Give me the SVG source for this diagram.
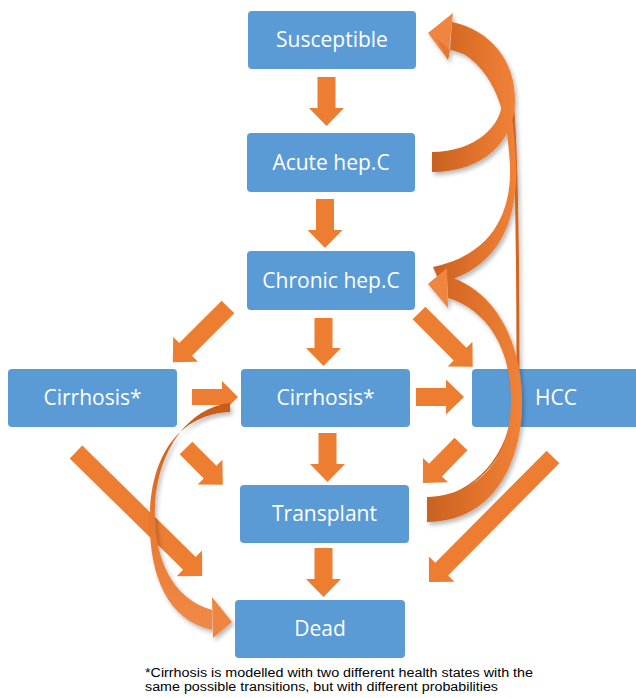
<svg xmlns="http://www.w3.org/2000/svg" width="636" height="698" viewBox="0 0 636 698">
<style>
.box{fill:#5b9bd5}
.lbl{font-family:"Open Sans","Liberation Sans",sans-serif;font-size:21px;fill:#ffffff;text-anchor:middle}
.arr{fill:#ed7d31}
.rib{fill:url(#gr)}
.rib2{fill:url(#gr2)}
.head{fill:#ef8540}
.note{font-family:"Liberation Sans",Arial,sans-serif;font-size:12px;fill:#000000}
</style>
<defs>
<linearGradient id="gr" x1="0" y1="0" x2="1" y2="0">
<stop offset="0" stop-color="#c8621f"/>
<stop offset="0.5" stop-color="#e0712a"/>
<stop offset="1" stop-color="#f08238"/>
</linearGradient>
<linearGradient id="gr2" x1="0" y1="0" x2="0" y2="1">
<stop offset="0" stop-color="#c45c1a"/>
<stop offset="0.5" stop-color="#e8772f"/>
<stop offset="1" stop-color="#f08a48"/>
</linearGradient>
<filter id="sh" x="-20%" y="-20%" width="140%" height="140%">
<feDropShadow dx="2" dy="3" stdDeviation="2" flood-color="#000" flood-opacity="0.28"/>
</filter>
</defs>

<g id="nodes">
<g id="susceptible"><rect class="box" x="248" y="11" width="168" height="58" rx="4"/><text class="lbl" x="332" y="47">Susceptible</text></g>
<g id="acute"><rect class="box" x="247" y="133" width="168" height="59" rx="4"/><text class="lbl" x="331" y="170">Acute hep.C</text></g>
<g id="chronic"><rect class="box" x="247" y="251" width="168" height="59" rx="4"/><text class="lbl" x="331" y="288">Chronic hep.C</text></g>
<g id="cirrhosis1"><rect class="box" x="8" y="369" width="169" height="58" rx="4"/><text class="lbl" x="92.5" y="405">Cirrhosis*</text></g>
<g id="cirrhosis2"><rect class="box" x="241" y="369" width="169" height="58" rx="4"/><text class="lbl" x="325.5" y="405">Cirrhosis*</text></g>
<g id="hcc"><rect class="box" x="472" y="369" width="172" height="58" rx="4"/><text class="lbl" x="556" y="405">HCC</text></g>
<g id="transplant"><rect class="box" x="240" y="485" width="169" height="58" rx="4"/><text class="lbl" x="324.5" y="521">Transplant</text></g>
<g id="dead"><rect class="box" x="235" y="600" width="170" height="58" rx="4"/><text class="lbl" x="320" y="636">Dead</text></g>
</g>

<g id="connectors">
<!-- straight block arrows -->
<polygon class="arr" transform="translate(326.5,77) rotate(90)" points="0,-9 31,-9 31,-17.5 49,0 31,17.5 31,9 0,9"/>
<polygon class="arr" transform="translate(325,199) rotate(90)" points="0,-9 31,-9 31,-17.5 49,0 31,17.5 31,9 0,9"/>
<polygon class="arr" transform="translate(323.5,318) rotate(90)" points="0,-9 30,-9 30,-17.5 48,0 30,17.5 30,9 0,9"/>
<polygon class="arr" transform="translate(327.5,433) rotate(90)" points="0,-9 31,-9 31,-17.5 49,0 31,17.5 31,9 0,9"/>
<polygon class="arr" transform="translate(323.5,548) rotate(90)" points="0,-9 31,-9 31,-17.5 49,0 31,17.5 31,9 0,9"/>
<polygon class="arr" transform="translate(416,397)" points="0,-9 30,-9 30,-17.5 48,0 30,17.5 30,9 0,9"/>
<polygon class="arr" transform="translate(192,397)" points="0,-8 30,-8 30,-16 46,0 30,16 30,8 0,8"/>
<polygon class="arr" transform="translate(228,307) rotate(135)" points="0,-9 60,-9 60,-17.5 78,0 60,17.5 60,9 0,9"/>
<polygon class="arr" transform="translate(419,313) rotate(45)" points="0,-9 58,-9 58,-17.5 76,0 58,17.5 58,9 0,9"/>
<polygon class="arr" transform="translate(186,448) rotate(45)" points="0,-9 34,-9 34,-17.5 52,0 34,17.5 34,9 0,9"/>
<polygon class="arr" transform="translate(461,444) rotate(134.3)" points="0,-9 36.5,-9 36.5,-17.5 54.5,0 36.5,17.5 36.5,9 0,9"/>
<polygon class="arr" transform="translate(76,452) rotate(44.5)" points="0,-9 159,-9 159,-18 177,0 159,18 159,9 0,9"/>
<polygon class="arr" transform="translate(553,457) rotate(134.8)" points="0,-9 158,-9 158,-18 176,0 158,18 158,9 0,9"/>

<!-- curved arrows -->
<g filter="url(#sh)">
<!-- Transplant -> Susceptible (thin) -->
<path d="M432,508 C490,495 518,450 518,380 C518,250 517,150 512,100 C508,65 490,42 458,32" fill="none" stroke="#d2661f" stroke-width="3"/>
<path d="M436,500 C492,484 514,440 516,385" fill="none" stroke="#c9601c" stroke-width="1.5"/>
<!-- Chronic -> Susceptible -->
<path class="rib" d="M440,283 C500,268 518,220 516,165 C514,110 505,65 462,40 L458,50 C495,72 507,110 510,165 C512,215 490,255 433,267 Z"/>
<!-- Acute -> Susceptible -->
<path class="rib" d="M432,172 C485,172 515,140 515,100 C515,60 490,30 452,22 L450,50 C475,55 500,75 502,100 C503,125 475,152 432,152 Z"/>
<polygon class="head" points="428,33 453,13 448,60"/>
<polygon points="436,38 450,50 448,60" fill="#e27632"/>
<!-- Transplant -> Chronic -->
<path class="rib" d="M427,522 C495,522 523,460 522,400 C521,340 495,290 447,276 L448,298 C488,310 511,350 511,400 C511,455 482,495 427,497 Z"/>
<polygon class="head" points="428,284 447,268 448,308"/>
<!-- Cirrhosis -> Dead (left curve) -->
<path class="rib2" d="M230,403 C188,408 158,450 155,505 C153,555 170,598 212,610 L212,630 C165,620 148,570 150,515 C151,455 180,414 230,412 Z"/>
<polygon class="head" points="212,597 232,622 213,638"/>
</g>
</g>

<g id="footnote">
<text class="note" x="145" y="677" textLength="388" lengthAdjust="spacingAndGlyphs">*Cirrhosis is modelled with two different health states with the</text>
<text class="note" x="145" y="691" textLength="353" lengthAdjust="spacingAndGlyphs">same possible transitions, but with different probabilities</text>
</g>
</svg>
